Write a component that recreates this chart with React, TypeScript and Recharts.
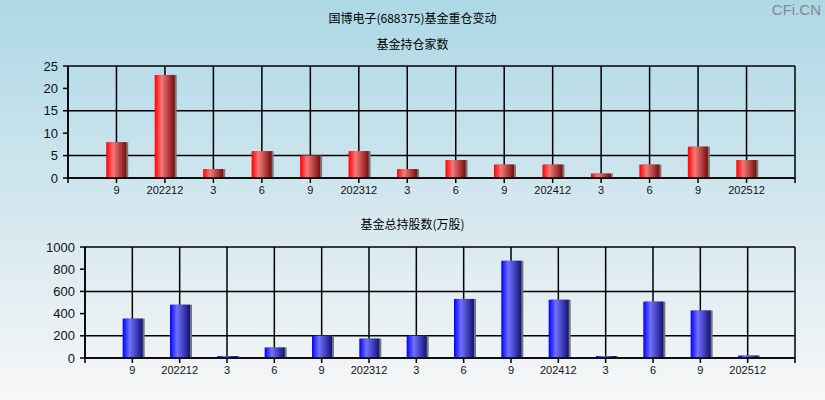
import { BarChart, Bar, XAxis, YAxis, CartesianGrid } from 'recharts';

const periods = ['9', '202212', '3', '6', '9', '202312', '3', '6', '9', '202412', '3', '6', '9', '202512'];
const fundCount = [8, 23, 2, 6, 5, 6, 2, 4, 3, 3, 1, 3, 7, 4];
const totalShares = [355, 480, 15, 95, 200, 175, 200, 532, 876, 525, 15, 508, 428, 22];
const countTicks = [0, 5, 10, 15, 20, 25];
const sharesTicks = [0, 200, 400, 600, 800, 1000];
const slotTicks = Array.from({ length: periods.length + 2 }, (_, i) => i);

const countData = periods.map((p, i) => ({ x: i + 1, label: p, value: fundCount[i] }));
const sharesData = periods.map((p, i) => ({ x: i + 1, label: p, value: totalShares[i] }));

const tickLabel = (v: number) => periods[v - 1] ?? '';

const axisTick = { fontSize: 11, fill: '#111', fontFamily: 'Liberation Sans, Arial, sans-serif' };
const yTick = { fontSize: 13, fill: '#111', fontFamily: 'Liberation Sans, Arial, sans-serif' };
const cjk = '"Noto Sans CJK SC", sans-serif';

const makeShape = (gradId: string) => (props: any) => {
    const { x, y, width, height } = props;
    if (!height || height <= 0) return <g />;
    const h = Math.max(height, 2);
    const top = y + height - h;
    return (
        <g>
            <rect x={x + 2} y={top} width={width} height={h} fill="#777" />
            <rect x={x} y={top} width={width} height={h} fill={`url(#${gradId})`} />
        </g>
    );
};

const Panel = ({ data, ticks, max, grad, yWidth, left, top }: any) => (
    <BarChart
        width={825}
        height={200}
        data={data}
        margin={{ top, right: 30, left, bottom: top === 66 ? 0 : 20 }}
    >
        <defs>
            <linearGradient id="redGrad" x1="0" y1="0" x2="1" y2="0">
                <stop offset="0%" stopColor="#ff0000" />
                <stop offset="35%" stopColor="#f47878" />
                <stop offset="100%" stopColor="#7a0c0c" />
            </linearGradient>
            <linearGradient id="blueGrad" x1="0" y1="0" x2="1" y2="0">
                <stop offset="0%" stopColor="#0000ff" />
                <stop offset="35%" stopColor="#7070ff" />
                <stop offset="100%" stopColor="#12127a" />
            </linearGradient>
        </defs>
        <CartesianGrid stroke="#000" strokeWidth={1.5} />
        <XAxis
            dataKey="x"
            type="number"
            domain={[0, periods.length + 1]}
            ticks={slotTicks}
            interval={0}
            tickFormatter={tickLabel}
            height={22}
            tickSize={5}
            tickMargin={3}
            stroke="#000"
            strokeWidth={1.5}
            tick={axisTick}
        />
        <YAxis
            domain={[0, max]}
            ticks={ticks}
            width={yWidth}
            tickSize={5}
            tickMargin={5}
            stroke="#000"
            strokeWidth={1.5}
            tick={yTick}
        />
        <Bar dataKey="value" barSize={20} shape={makeShape(grad)} isAnimationActive={false} />
    </BarChart>
);

export default function App() {
    return (
        <div
            style={{
                position: 'absolute',
                left: 0,
                top: 0,
                width: 825,
                height: 400,
                background: 'linear-gradient(to bottom, #acd8e6 0%, #d6e8ef 55%, #f7f7f7 100%)',
                overflow: 'hidden',
            }}
        >
            <div style={{ position: 'absolute', top: 9, left: 0, width: 825, textAlign: 'center', fontFamily: cjk, fontSize: 12, color: '#000' }}>
                国博电子(688375)基金重仓变动
            </div>
            <div style={{ position: 'absolute', top: 35, left: 0, width: 825, textAlign: 'center', fontFamily: cjk, fontSize: 12, color: '#000' }}>
                基金持仓家数
            </div>
            <div style={{ position: 'absolute', top: 215, left: 0, width: 825, textAlign: 'center', fontFamily: cjk, fontSize: 12, color: '#000' }}>
                基金总持股数(万股)
            </div>
            <div style={{ position: 'absolute', top: 1, right: 4, fontFamily: 'Liberation Sans, Arial, sans-serif', fontSize: 15, color: '#888' }}>
                CFi.CN
            </div>
            <div style={{ position: 'absolute', left: 0, top: 0 }}>
                <Panel data={countData} ticks={countTicks} max={25} grad="redGrad" yWidth={30} left={38} top={66} />
            </div>
            <div style={{ position: 'absolute', left: 0, top: 200 }}>
                <Panel data={sharesData} ticks={sharesTicks} max={1000} grad="blueGrad" yWidth={40} left={45} top={47} />
            </div>
        </div>
    );
}
